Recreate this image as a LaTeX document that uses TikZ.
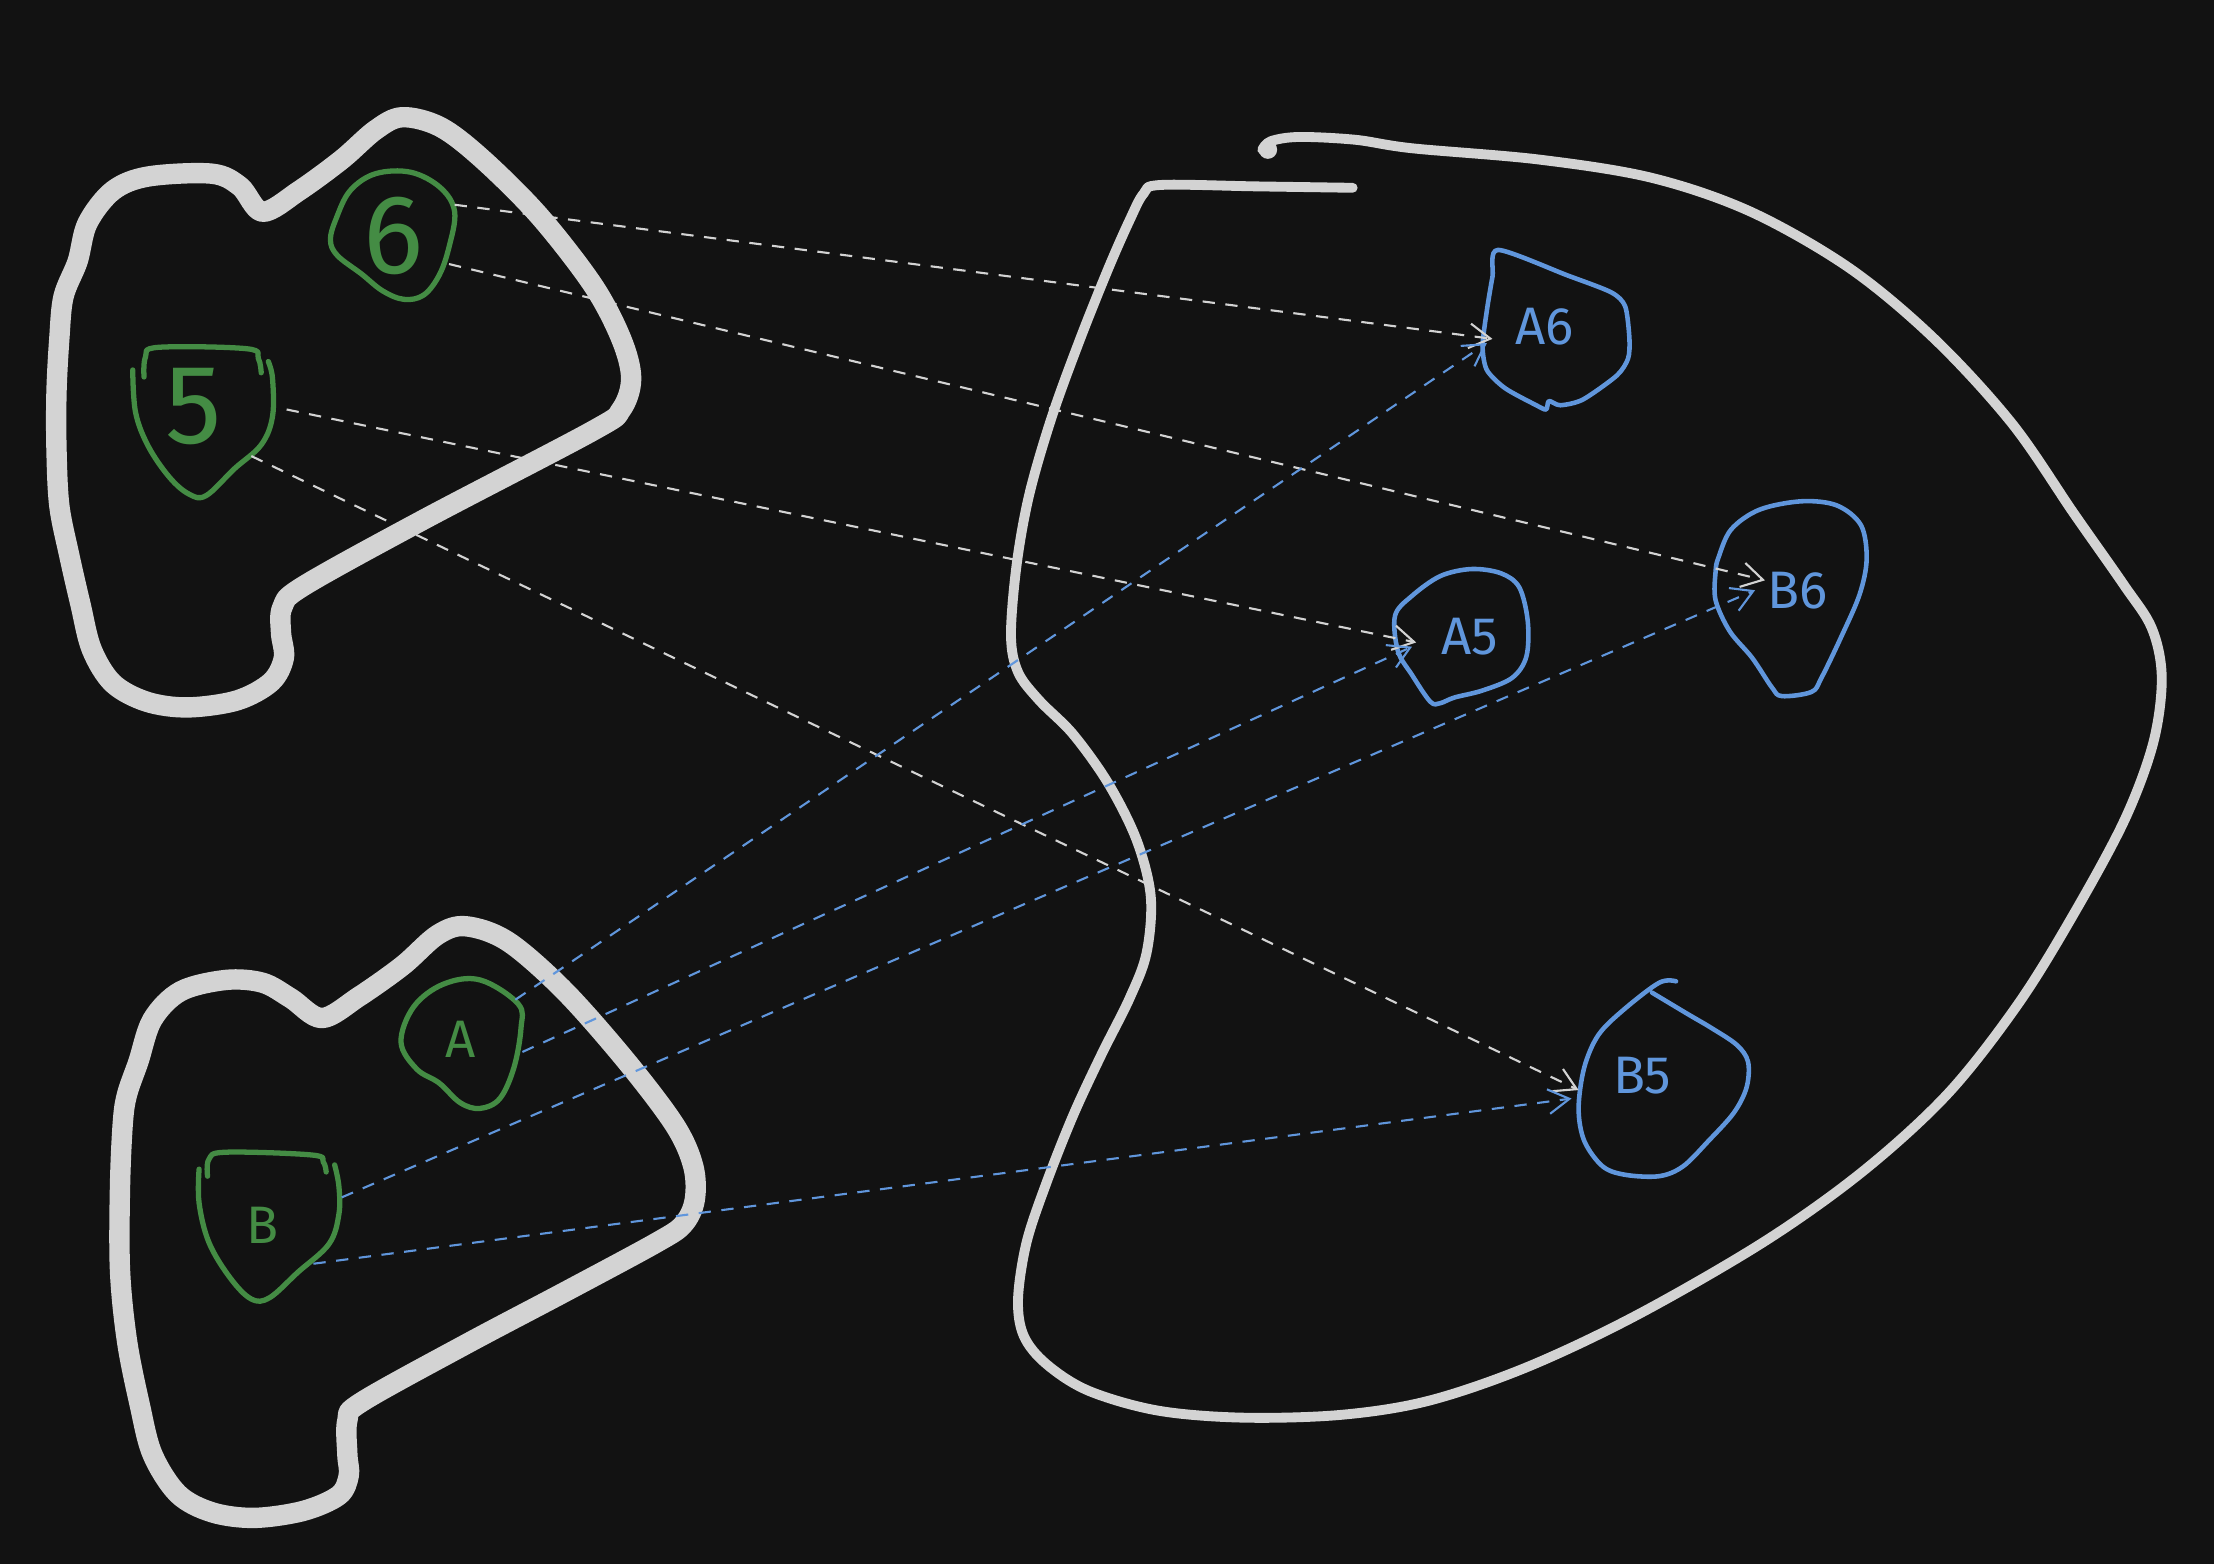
\documentclass[tikz,border=0pt]{standalone}
\usepackage{fontspec}
\setmainfont{Fira Sans}
\usetikzlibrary{arrows.meta}
\definecolor{bg}{HTML}{121212}
\definecolor{outl}{HTML}{D3D3D3}
\definecolor{grn}{HTML}{448C44}
\definecolor{blu}{HTML}{6096DC}
\begin{document}
\begin{tikzpicture}[x=0.01412cm,y=-0.01412cm,
  bigset/.style={draw=outl,line width=5.8pt,line cap=round,line join=round},
  regionline/.style={draw=outl,line width=2.8pt,line cap=round,line join=round},
  gblob/.style={draw=grn,line width=1.5pt,line cap=round,line join=round},
  bblob/.style={draw=blu,line width=1.3pt,line cap=round,line join=round},
  glabel/.style={text=grn,inner sep=0pt,font=\fontsize{15}{15}\selectfont},
  gdigit/.style={text=grn,inner sep=0pt,font=\fontsize{32}{32}\selectfont},
  blabel/.style={text=blu,inner sep=0pt,font=\fontsize{15}{15}\selectfont},
  warrow/.style={draw=outl,line width=0.6pt,dash pattern=on 3.5pt off 3pt,-{Straight Barb[length=6pt,width=7pt]}},
  barrow/.style={draw=blu,line width=0.6pt,dash pattern=on 3.5pt off 3pt,-{Straight Barb[length=6pt,width=7pt]}}]
\fill[bg] (0,0) rectangle (1568,1108);
\useasboundingbox (0,0) rectangle (1568,1108);

% top-left set
\draw[bigset] plot[smooth cycle,tension=0.55] coordinates {
 (45,210) (55,185) (62,158) (80,135) (105,125) (150,123) (170,132) (186,150)
 (212,135) (242,113) (266,92) (285,83) (312,90) (342,113) (382,153) (420,202)
 (440,240) (447,268) (440,290) (420,305) (300,368) (215,415) (200,430) (199,448)
 (201,466) (192,483) (168,496) (133,501) (104,497) (80,484) (65,460) (57,428)
 (49,393) (42,358) (40,318) (40,278) (42,240)};

% bottom-left set
\draw[bigset] plot[smooth cycle,tension=0.55] coordinates {
 (90,775) (98,752) (108,722) (128,702) (160,694) (186,696) (206,707) (228,721)
 (254,706) (285,684) (310,662) (330,656) (360,667) (400,702) (444,752) (478,797)
 (491,826) (492,850) (484,867) (465,880) (400,915) (330,952) (256,993) (246,1006)
 (246,1030) (247,1045) (240,1059) (215,1070) (180,1075) (150,1071) (126,1058)
 (108,1030) (99,995) (90,950) (85,900) (85,840) (87,795)};

% big right region
\draw[regionline] plot[smooth,tension=0.55] coordinates {
 (958,133) (890,132) (822,131) (810,137) (800,156) (785,190) (765,240) (745,295)
 (729,350) (720,400) (716,450) (721,476) (736,496) (760,520) (785,555) (805,595)
 (815,635) (812,675) (800,707) (780,747) (760,790) (741,838) (727,880) (721,920)
 (725,946) (741,966) (771,985) (820,999) (880,1004) (950,1002) (1012,992)
 (1082,968) (1160,931) (1250,879) (1320,829) (1380,774) (1430,710) (1470,645)
 (1505,580) (1525,526) (1531,480) (1524,445) (1504,414) (1469,364) (1425,300)
 (1370,240) (1310,190) (1240,150) (1170,126) (1090,113) (1000,105) (960,99)
 (920,97) (900,100) (894,106)};
\fill[outl] (898,106) circle (6.5);

% green sets
\draw[gblob] plot[smooth cycle,tension=0.6] coordinates {
 (322,150) (312,133) (291,122) (266,123) (248,135) (238,155) (234,170) (239,181)
 (256,194) (271,206) (286,212) (300,209) (311,195) (318,175)};
\node[gdigit] (six) at (279,167) {6};

\draw[gblob] plot[smooth,tension=0.6] coordinates {
 (102,267) (103,253) (112,246) (175,247) (183,254) (185,264)};
\draw[gblob] plot[smooth,tension=0.6] coordinates {
 (94,262) (96,292) (105,316) (120,338) (134,350) (146,351) (166,332) (185,315)
 (193,295) (193,268) (190,256)};
\node[gdigit] (five) at (137,288) {5};

\draw[gblob] plot[smooth cycle,tension=0.6] coordinates {
 (284,738) (293,713) (314,697) (340,694) (367,711) (369,728) (364,756) (354,778)
 (340,785) (326,781) (311,767) (295,757)};
\node[glabel] (na) at (326,736) {A};

\draw[gblob] plot[smooth,tension=0.6] coordinates {
 (147,833) (148,821) (160,816) (221,818) (229,823) (231,830)};
\draw[gblob] plot[smooth,tension=0.6] coordinates {
 (141,828) (141,852) (148,880) (163,905) (178,920) (191,919) (211,901) (233,881)
 (240,860) (240,840) (237,825)};
\node[glabel] (nb) at (186,868) {B};

% blue sets
\draw[bblob] plot[smooth cycle,tension=0.45] coordinates {
 (1061,177) (1110,195) (1141,207) (1151,217) (1154,240) (1153,254) (1145,266)
 (1121,283) (1105,287) (1097,284) (1095,290) (1088,287) (1066,275) (1053,262)
 (1050,245) (1053,220) (1057,196)};
\node[blabel] (a6) at (1094,231) {A6};

\draw[bblob] plot[smooth cycle,tension=0.55] coordinates {
 (988,436) (1000,422) (1020,408) (1042,403) (1063,406) (1076,416) (1082,440)
 (1081,465) (1071,480) (1050,489) (1030,494) (1020,498) (1013,497) (1000,478)
 (990,461)};
\node[blabel] (a5) at (1041,451) {A5};

\draw[bblob] plot[smooth cycle,tension=0.55] coordinates {
 (1217,395) (1226,375) (1246,361) (1276,355) (1301,358) (1318,372) (1322,396)
 (1317,421) (1304,451) (1290,480) (1283,490) (1262,493) (1255,487) (1241,466)
 (1225,447) (1215,425) (1215,405)};
\node[blabel] (b6) at (1273,418) {B6};

\draw[bblob] plot[smooth,tension=0.55] coordinates {
 (1187,695) (1175,696) (1150,715) (1132,733) (1122,756) (1118,785) (1122,808)
 (1135,826) (1151,832) (1175,833) (1192,826) (1210,808) (1228,788) (1237,770)
 (1238,752) (1230,740) (1212,728) (1195,718) (1170,703)};
\node[blabel] (b5) at (1163,762) {B5};

% connector end points
\coordinate (s6a) at (322,145);
\coordinate (s6b) at (318,187);
\coordinate (s5a) at (203,290);
\coordinate (s5b) at (178,323);
\coordinate (sAa) at (365,708);
\coordinate (sAb) at (370,745);
\coordinate (sBa) at (242,848);
\coordinate (sBb) at (222,895);
\coordinate (tA6w) at (1057,240);
\coordinate (tA6b) at (1053,243);
\coordinate (tB6w) at (1250,411);
\coordinate (tB6b) at (1243,418);
\coordinate (tA5w) at (1003,455);
\coordinate (tA5b) at (1000,458);
\coordinate (tB5w) at (1118,772);
\coordinate (tB5b) at (1113,778);

\draw[warrow] (s6a) -- (tA6w);
\draw[warrow] (s6b) -- (tB6w);
\draw[warrow] (s5a) -- (tA5w);
\draw[warrow] (s5b) -- (tB5w);
\draw[barrow] (sAa) -- (tA6b);
\draw[barrow] (sAb) -- (tA5b);
\draw[barrow] (sBa) -- (tB6b);
\draw[barrow] (sBb) -- (tB5b);
\end{tikzpicture}
\end{document}
